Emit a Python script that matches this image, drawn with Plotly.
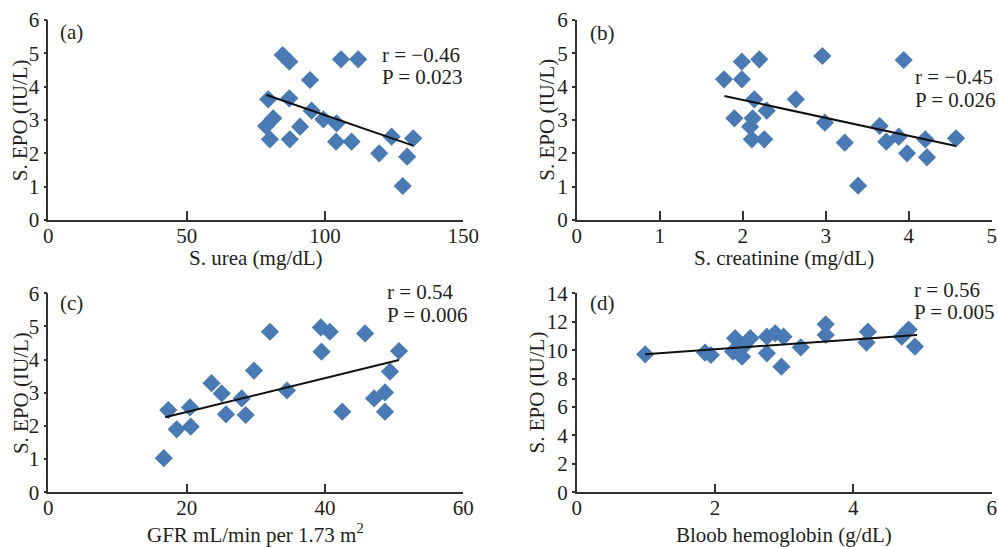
import plotly.graph_objects as go

# ---------------- data ----------------
urea_x = [84.7, 87.1, 105.8, 112.0, 94.6, 79.5, 87.1, 95.2, 99.4, 104.2, 81.3,
          78.7, 80.1, 87.3, 91.0, 104.0, 109.6, 119.6, 124.1, 131.9, 129.7, 128.1]
urea_y = [4.95, 4.75, 4.82, 4.82, 4.20, 3.62, 3.65, 3.28, 3.02, 2.90, 3.05,
          2.82, 2.42, 2.42, 2.80, 2.35, 2.35, 2.00, 2.50, 2.45, 1.90, 1.02]
urea_fit_x = [78.9, 131.9]
urea_fit_y = [3.75, 2.23]

creat_x = [1.775, 1.99, 2.20, 1.99, 2.96, 3.94, 2.14, 2.64, 2.29, 1.90, 2.12, 2.09,
           2.11, 2.26, 2.99, 3.23, 3.39, 3.65, 3.73, 3.88, 3.98, 4.20, 4.22, 4.57]
creat_y = [4.22, 4.75, 4.82, 4.22, 4.92, 4.80, 3.62, 3.62, 3.28, 3.05, 3.05, 2.80,
           2.42, 2.42, 2.92, 2.32, 1.03, 2.82, 2.35, 2.50, 2.00, 2.42, 1.88, 2.45]
creat_fit_x = [1.78, 4.57]
creat_fit_y = [3.72, 2.22]

gfr_x = [16.7, 17.35, 18.56, 20.49, 20.59, 23.6, 25.07, 25.69, 27.96, 28.54, 29.74, 32.05,
         34.5, 39.4, 40.7, 39.5, 42.5, 45.8, 47.1, 48.68, 48.68, 49.4, 50.7]
gfr_y = [1.03, 2.48, 1.90, 2.56, 1.98, 3.29, 2.98, 2.35, 2.83, 2.33, 3.67, 4.84,
         3.07, 4.97, 4.84, 4.24, 2.43, 4.79, 2.83, 3.01, 2.43, 3.64, 4.26]
gfr_fit_x = [16.9, 50.7]
gfr_fit_y = [2.26, 3.99]

hb_x = [0.99, 1.855, 1.94, 2.29, 2.26, 2.39, 2.42, 2.51, 2.75, 2.75, 2.87, 2.99, 2.96,
        3.24, 3.60, 3.60, 4.21, 4.19, 4.70, 4.80, 4.89]
hb_y = [9.71, 9.83, 9.66, 10.84, 9.90, 9.54, 10.30, 10.84, 10.95, 9.78, 11.19, 10.95, 8.84,
        10.20, 11.82, 11.07, 11.30, 10.53, 10.95, 11.45, 10.25]
hb_fit_x = [0.99, 4.92]
hb_fit_y = [9.71, 11.07]

panel_labels = ["(a)", "(b)", "(c)", "(d)"]
r_texts = ["r = \u22120.46", "r = \u22120.45", "r = 0.54", "r = 0.56"]
p_texts = ["P = 0.023", "P = 0.026", "P = 0.006", "P = 0.005"]
x_titles = ["S. urea (mg/dL)", "S. creatinine (mg/dL)",
            "GFR mL/min per 1.73 m<sup>2</sup>", "Bloob hemoglobin (g/dL)"]
y_title = "S. EPO (IU/L)"

x_ranges = [[0, 150], [0, 5], [0, 60], [0, 6]]
x_dticks = [50, 1, 20, 2]
y_ranges = [[0, 6], [0, 6], [0, 6], [0, 14]]
y_dticks = [1, 1, 1, 2]

# ---------------- figure ----------------
W, H = 998, 547
MARKER_COLOR = "#4a7ab4"
TEXT_COLOR = "#231f20"
FONT = "Liberation Serif, Times New Roman, serif"
FS = 21

# plot areas in pixels (left, right, top, bottom)
boxes = [(48.3, 463.3, 20.0, 220.0), (576.7, 991.7, 20.0, 220.0),
         (48.3, 463.3, 293.3, 492.3), (576.7, 991.7, 293.3, 492.3)]

datasets = [(urea_x, urea_y, urea_fit_x, urea_fit_y),
            (creat_x, creat_y, creat_fit_x, creat_fit_y),
            (gfr_x, gfr_y, gfr_fit_x, gfr_fit_y),
            (hb_x, hb_y, hb_fit_x, hb_fit_y)]

fig = go.Figure()
layout = dict(
    template="none",
    width=W, height=H, margin=dict(l=0, r=0, t=0, b=0, autoexpand=False),
    paper_bgcolor="white", plot_bgcolor="white", showlegend=False,
    font=dict(family=FONT, size=FS, color=TEXT_COLOR),
)
annotations = []

# annotation positions (pixel centres) for r/P and panel labels
rp_px = [(380, 55, 77), (913, 77, 100), (385, 292, 315), (911.7, 290, 312)]
lab_px = [(58, 32), (588, 33), (58, 303), (588, 303)]
xt_shift = [-38, -38, -41, -43]
yt_shift = [-28, -30, -28, -40]

for i, (xs, ys, fx, fy) in enumerate(datasets):
    n = "" if i == 0 else str(i + 1)
    xa, ya = "x" + n, "y" + n
    l, r, t, b = boxes[i]
    fig.add_trace(go.Scatter(
        x=xs, y=ys, mode="markers", xaxis=xa, yaxis=ya,
        marker=dict(symbol="diamond", size=14, color=MARKER_COLOR, line=dict(width=0)),
    ))
    fig.add_trace(go.Scatter(
        x=fx, y=fy, mode="lines", xaxis=xa, yaxis=ya,
        line=dict(color="#111111", width=2),
    ))
    layout["xaxis" + n] = dict(
        domain=[l / W, r / W], anchor=ya, range=x_ranges[i], dtick=x_dticks[i], tick0=0,
        automargin=False, ticklabelstandoff=-4,
        showgrid=False, zeroline=False, showline=True, linecolor="#333333", linewidth=1.5,
        ticks="inside", ticklen=9, tickwidth=1.5, tickcolor="#333333",
        tickfont=dict(size=FS, family=FONT, color=TEXT_COLOR),
    )
    layout["yaxis" + n] = dict(
        domain=[1 - b / H, 1 - t / H], anchor=xa, range=y_ranges[i], dtick=y_dticks[i], tick0=0,
        automargin=False,
        showgrid=False, zeroline=False, showline=True, linecolor="#333333", linewidth=1.5,
        ticks="outside", ticklen=3, tickwidth=1.5, tickcolor="#333333",
        tickfont=dict(size=FS, family=FONT, color=TEXT_COLOR),
    )
    xd, yd = xa + " domain", ya + " domain"
    lx, ly = lab_px[i]
    annotations.append(dict(text=panel_labels[i], xref="paper", yref="paper",
                            x=lx / W, y=1 - ly / H,
                            xanchor="left", yanchor="middle", showarrow=False))
    rx, ry, py = rp_px[i]
    annotations.append(dict(text=r_texts[i], xref="paper", yref="paper",
                            x=rx / W, y=1 - ry / H,
                            xanchor="left", yanchor="middle", showarrow=False))
    annotations.append(dict(text=p_texts[i], xref="paper", yref="paper",
                            x=rx / W, y=1 - py / H,
                            xanchor="left", yanchor="middle", showarrow=False))
    annotations.append(dict(text=x_titles[i], xref=xd, yref=yd, x=0.5, y=0,
                            xanchor="center", yanchor="middle", yshift=xt_shift[i],
                            showarrow=False))
    annotations.append(dict(text=y_title, xref=xd, yref=yd, x=0, y=0.5, textangle=-90,
                            xanchor="center", yanchor="middle", xshift=yt_shift[i],
                            showarrow=False))

layout["annotations"] = annotations
fig.update_layout(**layout)
fig.write_html(
    "out.html",
    config={"displayModeBar": False},
    post_script="document.body.style.margin='0px';document.body.style.overflow='hidden';",
)
